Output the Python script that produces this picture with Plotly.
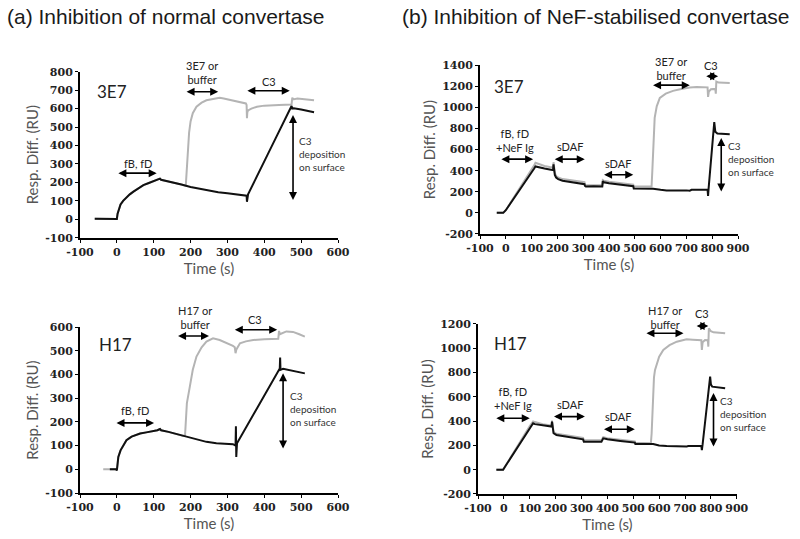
import plotly.graph_objects as go

# ---------------- data ----------------
# Panel (a) top: 3E7, normal convertase
a1_black_t = [-60, -1, 0, 2, 5, 10, 17, 25, 35, 45, 60, 72, 85, 99, 110, 117, 120, 130, 150, 175, 200, 225, 250, 275, 300, 325, 350, 352, 353, 354, 356, 420, 474, 476, 480, 500, 520, 535]
a1_black_y = [3, 3, 2, 30, 55, 80, 100, 118, 135, 150, 168, 185, 195, 205, 212, 220, 214, 210, 200, 188, 175, 165, 155, 147, 141, 135, 130, 128, 95, 125, 135, 395, 614, 600, 602, 595, 585, 580]
a1_gray_t = [-60, -1, 0, 2, 5, 10, 17, 25, 35, 45, 60, 72, 85, 99, 110, 117, 120, 130, 150, 175, 187, 189, 192, 196, 200, 206, 216, 230, 243, 260, 279, 290, 315, 340, 350, 352, 353, 354, 356, 365, 380, 400, 440, 470, 474, 476, 478, 490, 510, 535]
a1_gray_y = [3, 3, 2, 30, 55, 80, 100, 118, 135, 150, 168, 185, 195, 205, 212, 220, 214, 210, 200, 188, 182, 250, 380, 470, 530, 575, 610, 632, 645, 652, 658, 655, 645, 632, 628, 620, 548, 580, 590, 600, 610, 616, 620, 621, 622, 660, 650, 655, 650, 645]

# Panel (b) top: 3E7, NeF-stabilised convertase
b1_black_t = [-35, -10, 0, 20, 40, 60, 80, 100, 110, 115, 130, 150, 170, 183, 185, 187, 190, 195, 203, 220, 250, 287, 305, 307, 310, 340, 374, 376, 380, 400, 450, 494, 496, 510, 560, 571, 600, 623, 700, 713, 720, 777, 782, 784, 786, 808, 812, 820, 850, 868]
b1_black_y = [0, 0, 25, 95, 170, 240, 310, 380, 420, 440, 430, 420, 412, 405, 460, 410, 360, 335, 320, 305, 295, 282, 272, 255, 250, 252, 250, 300, 290, 280, 265, 252, 230, 230, 228, 228, 218, 213, 213, 210, 218, 220, 219, 160, 230, 860, 770, 752, 750, 745]
b1_gray_t = [-35, -10, 0, 20, 40, 60, 80, 100, 110, 115, 130, 150, 170, 183, 185, 187, 190, 195, 203, 220, 250, 287, 305, 307, 310, 340, 374, 376, 380, 400, 450, 494, 496, 510, 560, 565, 568, 572, 577, 585, 597, 620, 648, 680, 713, 740, 777, 782, 784, 787, 795, 812, 814, 816, 825, 868]
b1_gray_y = [0, 0, 25, 100, 180, 255, 330, 405, 450, 475, 460, 445, 435, 430, 480, 430, 380, 350, 335, 320, 310, 298, 290, 268, 262, 262, 262, 310, 305, 295, 280, 268, 250, 250, 248, 250, 400, 700, 900, 1010, 1090, 1130, 1157, 1175, 1189, 1193, 1195, 1190, 1100, 1150, 1172, 1175, 1130, 1245, 1235, 1232]

# Panel (a) bottom: H17, normal convertase
a2_black_t = [-19, -2, 0, 2, 4, 10, 18, 26, 40, 63, 80, 99, 110, 117, 120, 140, 160, 180, 210, 243, 270, 300, 315, 322, 323, 324, 326, 380, 442, 443, 444, 451, 470, 490, 510]
a2_black_y = [0, 0, -5, 30, 52, 80, 105, 123, 138, 151, 156, 160, 165, 170, 165, 158, 150, 141, 128, 116, 110, 107, 106, 100, 182, 52, 110, 257, 426, 472, 420, 424, 418, 410, 405]
a2_gray_t = [-37, -19, -2, 0, 2, 4, 10, 18, 26, 40, 63, 80, 99, 110, 117, 120, 140, 160, 180, 185, 187, 190, 198, 206, 216, 230, 243, 261, 279, 300, 315, 320, 322, 324, 334, 350, 370, 400, 438, 440, 442, 460, 478, 495, 510]
a2_gray_y = [0, 0, 0, -5, 30, 52, 80, 105, 123, 138, 151, 156, 160, 165, 170, 165, 158, 150, 141, 144, 200, 280, 349, 420, 476, 515, 539, 553, 546, 532, 521, 515, 490, 505, 532, 540, 546, 549, 551, 584, 570, 582, 580, 570, 560]

# Panel (b) bottom: H17, NeF-stabilised convertase
b2_black_t = [-29, -3, 0, 20, 40, 55, 70, 87, 100, 113, 120, 150, 184, 186, 188, 192, 203, 242, 280, 306, 309, 340, 377, 384, 400, 450, 506, 508, 540, 577, 600, 629, 706, 712, 758, 763, 765, 768, 797, 800, 805, 830, 855]
b2_black_y = [0, 0, 10, 75, 140, 190, 245, 300, 345, 382, 375, 365, 355, 396, 340, 300, 286, 272, 262, 250, 231, 231, 231, 258, 250, 236, 223, 212, 212, 212, 200, 195, 190, 195, 195, 195, 162, 210, 766, 700, 684, 675, 670]
b2_gray_t = [-29, -3, 0, 20, 40, 55, 70, 87, 100, 113, 120, 150, 184, 186, 188, 192, 203, 242, 280, 306, 309, 340, 377, 384, 400, 450, 506, 508, 540, 568, 571, 575, 580, 584, 600, 616, 640, 668, 706, 730, 758, 763, 765, 768, 777, 788, 790, 792, 800, 810, 855]
b2_gray_y = [0, 0, 10, 80, 150, 200, 260, 315, 360, 398, 392, 375, 365, 405, 350, 310, 296, 282, 272, 262, 243, 243, 243, 268, 260, 246, 233, 222, 220, 218, 300, 600, 760, 821, 930, 986, 1025, 1054, 1074, 1070, 1068, 1066, 986, 1050, 1068, 1066, 1013, 1164, 1140, 1131, 1123]

# tick values / labels
xticks_a = [-100, 0, 100, 200, 300, 400, 500, 600]
xticks_b = [-100, 0, 100, 200, 300, 400, 500, 600, 700, 800, 900]
yticks_a1 = [-100, 0, 100, 200, 300, 400, 500, 600, 700, 800]
yticks_a2 = [-100, 0, 100, 200, 300, 400, 500, 600]
yticks_b1 = [-200, 0, 200, 400, 600, 800, 1000, 1200, 1400]
yticks_b2 = [-200, 0, 200, 400, 600, 800, 1000, 1200]

panel_titles = ["(a) Inhibition of normal convertase", "(b) Inhibition of NeF-stabilised convertase"]
antibodies = ["3E7", "H17"]

# ---------------- figure ----------------
BLACK = "#111111"
GRAY = "#b4b4b4"
fig = go.Figure()

panels = [
    ("x", "y", a1_black_t, a1_black_y, a1_gray_t, a1_gray_y),
    ("x2", "y2", b1_black_t, b1_black_y, b1_gray_t, b1_gray_y),
    ("x3", "y3", a2_black_t, a2_black_y, a2_gray_t, a2_gray_y),
    ("x4", "y4", b2_black_t, b2_black_y, b2_gray_t, b2_gray_y),
]
for xa, ya, bt, by, gt, gy in panels:
    fig.add_trace(go.Scatter(x=gt, y=gy, mode="lines", line=dict(color=GRAY, width=2),
                             xaxis=xa, yaxis=ya, showlegend=False, hoverinfo="skip"))
    fig.add_trace(go.Scatter(x=bt, y=by, mode="lines", line=dict(color=BLACK, width=2),
                             xaxis=xa, yaxis=ya, showlegend=False, hoverinfo="skip"))

tickfont = dict(family="DejaVu Serif", size=11, color="#222222", weight="bold")
titlefont = dict(family="Lato", size=15, color="#555555")


def xax(domain, rng, ticks, anchor):
    return dict(domain=domain, range=rng, tickvals=ticks, ticktext=[str(v) for v in ticks],
                anchor=anchor, showgrid=False, zeroline=False, automargin=False,
                showline=True, linecolor="black", linewidth=2, ticks="outside", ticklen=3,
                tickcolor="black", tickwidth=1, tickfont=tickfont,
                title=dict(text="Time (s)", font=titlefont, standoff=3))


def yax(domain, rng, ticks, anchor):
    return dict(domain=domain, range=rng, tickvals=ticks, ticktext=[str(v) for v in ticks],
                anchor=anchor, showgrid=False, zeroline=False, automargin=False,
                showline=True, linecolor="black", linewidth=2, ticks="outside", ticklen=3,
                tickcolor="black", tickwidth=1, tickfont=tickfont,
                title=dict(text="Resp. Diff. (RU)", font=titlefont, standoff=3))


fig.update_layout(
    width=800, height=539, margin=dict(l=0, r=0, t=0, b=0, autoexpand=False),
    paper_bgcolor="white", plot_bgcolor="white",
    xaxis=xax([0.1, 0.4225], [-100, 600], xticks_a, "y"),
    yaxis=yax([0.559, 0.867], [-100, 800], yticks_a1, "x"),
    xaxis2=xax([0.6, 0.9225], [-100, 900], xticks_b, "y2"),
    yaxis2=yax([0.566, 0.879], [-200, 1400], yticks_b1, "x2"),
    xaxis3=xax([0.1, 0.4225], [-100, 600], xticks_a, "y3"),
    yaxis3=yax([0.0853, 0.393], [-100, 600], yticks_a2, "x3"),
    xaxis4=xax([0.5975, 0.921], [-100, 900], xticks_b, "y4"),
    yaxis4=yax([0.0835, 0.399], [-200, 1200], yticks_b2, "x4"),
)

yranges = {"y": (-100, 800), "y2": (-200, 1400), "y3": (-100, 600), "y4": (-200, 1200)}

ann = []
# panel titles
ann.append(dict(text=panel_titles[0], xref="paper", yref="paper", x=0.006, y=1 - 17 / 539,
                xanchor="left", yanchor="middle", showarrow=False,
                font=dict(family="Liberation Sans", size=21, color="#1a1a1a")))
ann.append(dict(text=panel_titles[1], xref="paper", yref="paper", x=0.5, y=1 - 17 / 539,
                xanchor="left", yanchor="middle", showarrow=False,
                font=dict(family="Liberation Sans", size=21, color="#1a1a1a")))

labfont = dict(family="Lato", size=11, color="#222222")
smallfont = dict(family="Lato", size=10, color="#333333")
abfont = dict(family="Lato", size=17, color="#222222")


def text(xr, yr, x, y, s, font=labfont, anchor="center"):
    lo, hi = yranges[yr]
    ann.append(dict(text=s, xref=xr, yref=yr + " domain", x=x, y=(y - lo) / (hi - lo),
                    showarrow=False, xanchor=anchor, yanchor="middle", font=font,
                    align="left" if anchor == "left" else "center"))


def darrow(xr, yr, x0, y0, x1, y1):
    ann.append(dict(text="", xref=xr, yref=yr, x=x1, y=y1, ax=x0, ay=y0,
                    axref=xr, ayref=yr, showarrow=True, arrowhead=2, startarrowhead=2,
                    arrowside="end+start", arrowsize=1, startarrowsize=1, arrowwidth=1.6,
                    arrowcolor="black", standoff=0, startstandoff=0))


# (a) top
text("x", "y", -60, 690, antibodies[0], abfont, "left")
text("x", "y", 57, 300, "fB, fD")
darrow("x", "y", 0, 250, 108, 250)
text("x", "y", 230, 795, "3E7 or<br>buffer")
darrow("x", "y", 185, 691, 275, 691)
text("x", "y", 413, 745, "C3")
darrow("x", "y", 350, 697, 469, 697)
darrow("x", "y", 478, 574, 478, 104)
text("x", "y", 490, 352, "C3<br>deposition<br>on surface", smallfont, "left")

# (b) top
text("x2", "y2", -55, 1202, antibodies[0], abfont, "left")
text("x2", "y2", 35, 685, "fB, fD<br>+NeF Ig")
darrow("x2", "y2", -23, 509, 106, 509)
text("x2", "y2", 248, 628, "sDAF")
darrow("x2", "y2", 184, 509, 306, 509)
text("x2", "y2", 435, 471, "sDAF")
darrow("x2", "y2", 375, 361, 494, 361)
text("x2", "y2", 642, 1365, "3E7 or<br>buffer")
darrow("x2", "y2", 565, 1211, 713, 1211)
text("x2", "y2", 797, 1400, "C3")
darrow("x2", "y2", 771, 1296, 823, 1296)
darrow("x2", "y2", 835, 723, 835, 203)
text("x2", "y2", 853, 510, "C3<br>deposition<br>on surface", smallfont, "left")

# (a) bottom
text("x3", "y3", -55, 525, antibodies[1], abfont, "left")
text("x3", "y3", 49, 250, "fB, fD")
darrow("x3", "y3", -5, 196, 101, 196)
text("x3", "y3", 212, 641, "H17 or<br>buffer")
darrow("x3", "y3", 162, 563, 250, 563)
text("x3", "y3", 374, 631, "C3")
darrow("x3", "y3", 316, 589, 435, 589)
darrow("x3", "y3", 451, 412, 451, 88)
text("x3", "y3", 463, 254, "C3<br>deposition<br>on surface", smallfont, "left")

# (b) bottom
text("x4", "y4", -45, 1041, antibodies[1], abfont, "left")
text("x4", "y4", 35, 588, "fB, fD<br>+NeF Ig")
darrow("x4", "y4", -35, 423, 100, 423)
text("x4", "y4", 255, 533, "sDAF")
darrow("x4", "y4", 188, 437, 313, 437)
text("x4", "y4", 442, 437, "sDAF")
darrow("x4", "y4", 381, 333, 506, 333)
text("x4", "y4", 623, 1251, "H17 or<br>buffer")
darrow("x4", "y4", 545, 1123, 694, 1123)
text("x4", "y4", 765, 1288, "C3")
darrow("x4", "y4", 739, 1184, 790, 1184)
darrow("x4", "y4", 810, 643, 810, 190)
text("x4", "y4", 827, 458, "C3<br>deposition<br>on surface", smallfont, "left")

fig.update_layout(annotations=ann)
fig.write_html("out.html", config={"displayModeBar": False},
               post_script="document.body.style.margin='0px';")
